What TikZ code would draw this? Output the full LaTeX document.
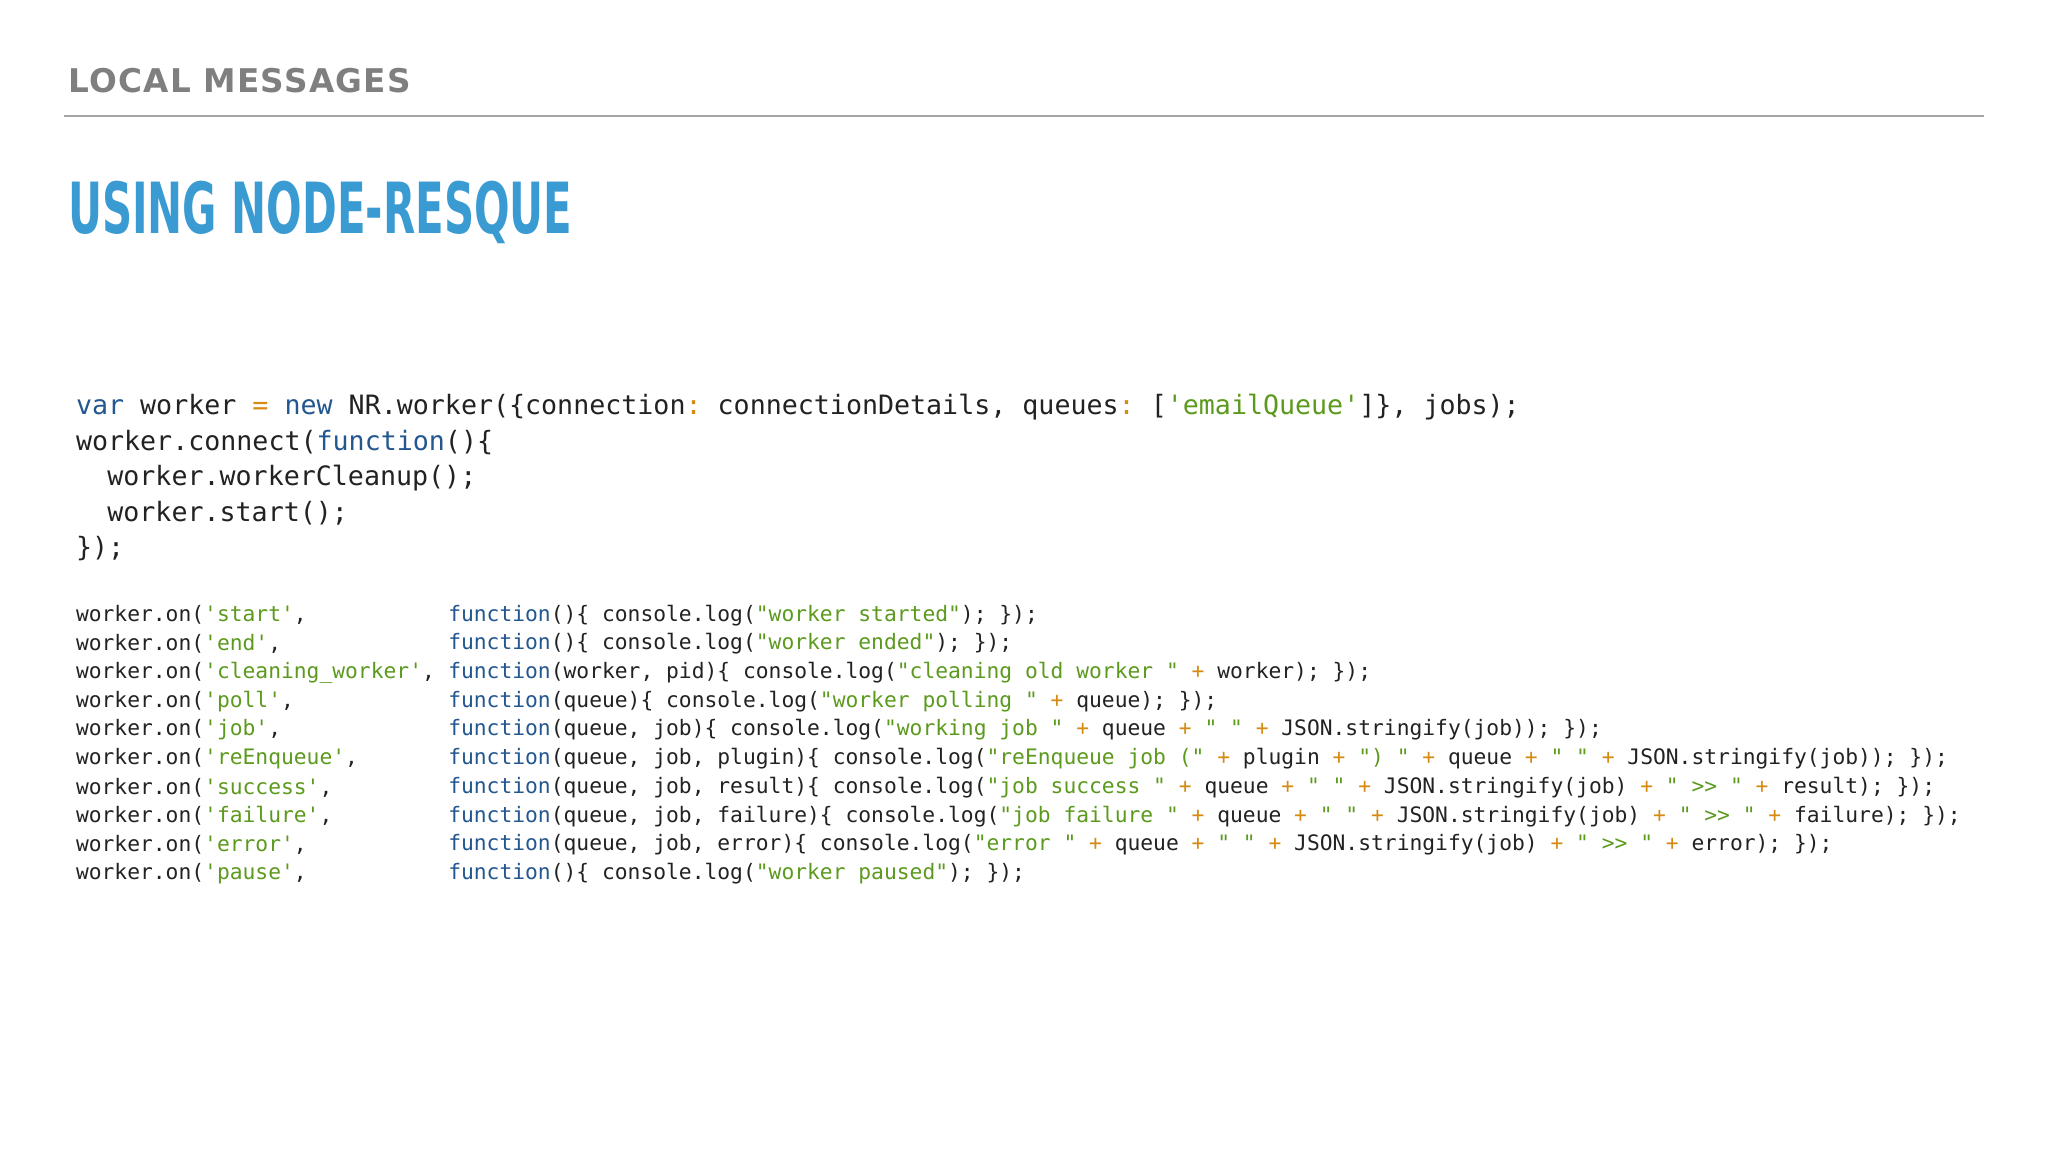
\documentclass[tikz,border=0pt]{standalone}
\usepackage{fontspec}
\setmainfont{DejaVu Sans}
\setmonofont{DejaVu Sans Mono}
\newfontfamily\titlefont{DejaVu Sans Condensed}
\definecolor{kw}{HTML}{23578F}
\definecolor{st}{HTML}{5C9A1E}
\definecolor{op}{HTML}{D58A12}
\definecolor{ttl}{HTML}{3A9BD3}
\definecolor{hd}{HTML}{7F7F7F}
\definecolor{cd}{HTML}{222222}
\newcommand{\kw}[1]{{\color{kw}#1}}
\newcommand{\st}[1]{{\color{st}#1}}
\newcommand{\op}[1]{{\color{op}#1}}
\tikzset{big/.style={anchor=west,inner sep=0,font=\ttfamily\fontsize{20.4}{24}\selectfont,text=cd},
small/.style={anchor=west,inner sep=0,font=\ttfamily\fontsize{16.3}{20}\selectfont,text=cd}}
\begin{document}
\begin{tikzpicture}[x=1pt,y=-1pt]
\useasboundingbox[fill=white] (0,0) rectangle (1568,882);
\node[anchor=west,inner sep=0,text=hd,font=\bfseries\fontsize{25}{30}\selectfont\addfontfeatures{LetterSpace=4}] (hdr) at (52,62) {LOCAL MESSAGES};
\draw[hd!70,line width=1.2pt] (49,89) coordinate (l1) -- (1519,89) coordinate (l2);
\node[anchor=west,inner sep=0,text=ttl,font=\titlefont\bfseries\fontsize{54}{60}\selectfont] (title) at (52,163) {\scalebox{0.66}[1]{USING NODE-RESQUE}};
\node[big] (b1) at (58,312) {\kw{var} worker \op{=} \kw{new} NR.worker(\{connection\op{:} connectionDetails, queues\op{:} [\st{'emailQueue'}]\}, jobs);};
\node[big] (b2) at (58,339) {worker.connect(\kw{function}()\{};
\node[big] (b3) at (82,366) {worker.workerCleanup();};
\node[big] (b4) at (82,393) {worker.start();};
\node[big] (b5) at (58,420) {\});};
\foreach \y/\a/\b in {
471/start/{\kw{function}()\{ console.log(\st{"worker started"}); \});},
493/end/{\kw{function}()\{ console.log(\st{"worker ended"}); \});},
515/cleaning\_worker/{\kw{function}(worker, pid)\{ console.log(\st{"cleaning old worker "} \op{+} worker); \});},
537/poll/{\kw{function}(queue)\{ console.log(\st{"worker polling "} \op{+} queue); \});},
559/job/{\kw{function}(queue, job)\{ console.log(\st{"working job "} \op{+} queue \op{+} \st{" "} \op{+} JSON.stringify(job)); \});},
581/reEnqueue/{\kw{function}(queue, job, plugin)\{ console.log(\st{"reEnqueue job ("} \op{+} plugin \op{+} \st{") "} \op{+} queue \op{+} \st{" "} \op{+} JSON.stringify(job)); \});},
603/success/{\kw{function}(queue, job, result)\{ console.log(\st{"job success "} \op{+} queue \op{+} \st{" "} \op{+} JSON.stringify(job) \op{+} \st{" >> "} \op{+} result); \});},
625/failure/{\kw{function}(queue, job, failure)\{ console.log(\st{"job failure "} \op{+} queue \op{+} \st{" "} \op{+} JSON.stringify(job) \op{+} \st{" >> "} \op{+} failure); \});},
647/error/{\kw{function}(queue, job, error)\{ console.log(\st{"error "} \op{+} queue \op{+} \st{" "} \op{+} JSON.stringify(job) \op{+} \st{" >> "} \op{+} error); \});},
669/pause/{\kw{function}()\{ console.log(\st{"worker paused"}); \});}}
{
\node[small] (e\y) at (58,\y) {worker.on(\st{'\a'},};
\node[small] (f\y) at (343,\y) {\b};
}
\end{tikzpicture}
\end{document}
